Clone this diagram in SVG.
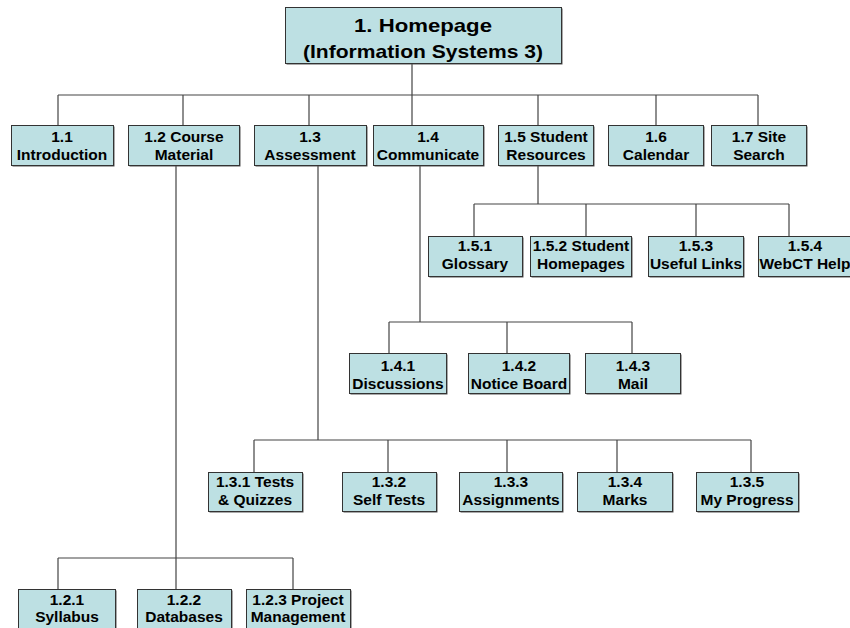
<svg xmlns="http://www.w3.org/2000/svg" width="850" height="628" viewBox="0 0 850 628">
<style>
.box{fill:#BDE0E3;stroke:#333;stroke-width:1}
.sh{fill:#555}
.t{font-family:"Liberation Sans",Arial,sans-serif;font-weight:bold;font-size:15.5px;fill:#000;text-anchor:middle}
.tt{font-family:"Liberation Sans",Arial,sans-serif;font-weight:bold;font-size:19px;fill:#000;text-anchor:middle}
#connectors path{fill:none;stroke:#444;stroke-width:1.2}
</style>
<rect width="850" height="628" fill="#fff"/>
<g id="connectors">
<path d="M412 63V95M58 95H758M58 95V125M183 95V125M309 95V125M412 95V125M538 95V125M656 95V125M758 95V125"/>
<path d="M176 165V558M58 558H293M58 558V589M176 558V589M293 558V589"/>
<path d="M318 165V440M254 440H751M254 440V472M388 440V472M507 440V472M617 440V472M751 440V472"/>
<path d="M420 165V322M389 322H632M389 322V353M507 322V353M632 322V353"/>
<path d="M538 165V204M474 204H789M474 204V236M586 204V236M696 204V236M789 204V236"/>
</g>
<g id="n1"><rect class="sh" x="286.5" y="8.5" width="276" height="56"/><rect class="box" x="285.5" y="7.5" width="276" height="56"/><text class="tt" x="423" y="32" textLength="138" lengthAdjust="spacingAndGlyphs">1. Homepage</text><text class="tt" x="423" y="58" textLength="240" lengthAdjust="spacingAndGlyphs">(Information Systems 3)</text></g>
<g id="n1_1"><rect class="sh" x="12.5" y="126.5" width="102" height="40"/><rect class="box" x="11.5" y="125.5" width="102" height="40"/><text class="t" x="62" y="142">1.1</text><text class="t" x="62" y="160">Introduction</text></g>
<g id="n1_2"><rect class="sh" x="129.5" y="126.5" width="111" height="40"/><rect class="box" x="128.5" y="125.5" width="111" height="40"/><text class="t" x="184" y="142">1.2 Course</text><text class="t" x="184" y="160">Material</text></g>
<g id="n1_3"><rect class="sh" x="255.5" y="126.5" width="112" height="40"/><rect class="box" x="254.5" y="125.5" width="112" height="40"/><text class="t" x="310" y="142">1.3</text><text class="t" x="310" y="160">Assessment</text></g>
<g id="n1_4"><rect class="sh" x="374.5" y="126.5" width="110" height="40"/><rect class="box" x="373.5" y="125.5" width="110" height="40"/><text class="t" x="428" y="142">1.4</text><text class="t" x="428" y="160">Communicate</text></g>
<g id="n1_5"><rect class="sh" x="499.5" y="126.5" width="95" height="40"/><rect class="box" x="498.5" y="125.5" width="95" height="40"/><text class="t" x="546" y="142">1.5 Student</text><text class="t" x="546" y="160">Resources</text></g>
<g id="n1_6"><rect class="sh" x="609.5" y="126.5" width="95" height="40"/><rect class="box" x="608.5" y="125.5" width="95" height="40"/><text class="t" x="656" y="142">1.6</text><text class="t" x="656" y="160">Calendar</text></g>
<g id="n1_7"><rect class="sh" x="712.5" y="126.5" width="95" height="40"/><rect class="box" x="711.5" y="125.5" width="95" height="40"/><text class="t" x="759" y="142">1.7 Site</text><text class="t" x="759" y="160">Search</text></g>
<g id="n1_5_1"><rect class="sh" x="429.5" y="237.5" width="94" height="40"/><rect class="box" x="428.5" y="236.5" width="94" height="40"/><text class="t" x="475" y="251">1.5.1</text><text class="t" x="475" y="269">Glossary</text></g>
<g id="n1_5_2"><rect class="sh" x="531.5" y="237.5" width="101" height="40"/><rect class="box" x="530.5" y="236.5" width="101" height="40"/><text class="t" x="581" y="251">1.5.2 Student</text><text class="t" x="581" y="269">Homepages</text></g>
<g id="n1_5_3"><rect class="sh" x="649.5" y="237.5" width="95" height="40"/><rect class="box" x="648.5" y="236.5" width="95" height="40"/><text class="t" x="696" y="251">1.5.3</text><text class="t" x="696" y="269">Useful Links</text></g>
<g id="n1_5_4"><rect class="sh" x="759.5" y="237.5" width="95" height="40"/><rect class="box" x="758.5" y="236.5" width="95" height="40"/><text class="t" x="805" y="251">1.5.4</text><text class="t" x="805" y="269">WebCT Help</text></g>
<g id="n1_4_1"><rect class="sh" x="350.5" y="354.5" width="97" height="40"/><rect class="box" x="349.5" y="353.5" width="97" height="40"/><text class="t" x="398" y="371">1.4.1</text><text class="t" x="398" y="389">Discussions</text></g>
<g id="n1_4_2"><rect class="sh" x="469.5" y="354.5" width="101" height="40"/><rect class="box" x="468.5" y="353.5" width="101" height="40"/><text class="t" x="519" y="371">1.4.2</text><text class="t" x="519" y="389">Notice Board</text></g>
<g id="n1_4_3"><rect class="sh" x="586.5" y="354.5" width="95" height="40"/><rect class="box" x="585.5" y="353.5" width="95" height="40"/><text class="t" x="633" y="371">1.4.3</text><text class="t" x="633" y="389">Mail</text></g>
<g id="n1_3_1"><rect class="sh" x="209.5" y="473.5" width="94" height="39"/><rect class="box" x="208.5" y="472.5" width="94" height="39"/><text class="t" x="255" y="487">1.3.1 Tests</text><text class="t" x="255" y="505">&amp; Quizzes</text></g>
<g id="n1_3_2"><rect class="sh" x="343.5" y="473.5" width="94" height="39"/><rect class="box" x="342.5" y="472.5" width="94" height="39"/><text class="t" x="389" y="487">1.3.2</text><text class="t" x="389" y="505">Self Tests</text></g>
<g id="n1_3_3"><rect class="sh" x="460.5" y="473.5" width="103" height="39"/><rect class="box" x="459.5" y="472.5" width="103" height="39"/><text class="t" x="511" y="487">1.3.3</text><text class="t" x="511" y="505">Assignments</text></g>
<g id="n1_3_4"><rect class="sh" x="578.5" y="473.5" width="95" height="39"/><rect class="box" x="577.5" y="472.5" width="95" height="39"/><text class="t" x="625" y="487">1.3.4</text><text class="t" x="625" y="505">Marks</text></g>
<g id="n1_3_5"><rect class="sh" x="697.5" y="473.5" width="102" height="39"/><rect class="box" x="696.5" y="472.5" width="102" height="39"/><text class="t" x="747" y="487">1.3.5</text><text class="t" x="747" y="505">My Progress</text></g>
<g id="n1_2_1"><rect class="sh" x="19.5" y="590.5" width="97" height="40"/><rect class="box" x="18.5" y="589.5" width="97" height="40"/><text class="t" x="67" y="605">1.2.1</text><text class="t" x="67" y="622">Syllabus</text></g>
<g id="n1_2_2"><rect class="sh" x="138.5" y="590.5" width="94" height="40"/><rect class="box" x="137.5" y="589.5" width="94" height="40"/><text class="t" x="184" y="605">1.2.2</text><text class="t" x="184" y="622">Databases</text></g>
<g id="n1_2_3"><rect class="sh" x="247.5" y="590.5" width="104" height="40"/><rect class="box" x="246.5" y="589.5" width="104" height="40"/><text class="t" x="298" y="605">1.2.3 Project</text><text class="t" x="298" y="622">Management</text></g>
</svg>
